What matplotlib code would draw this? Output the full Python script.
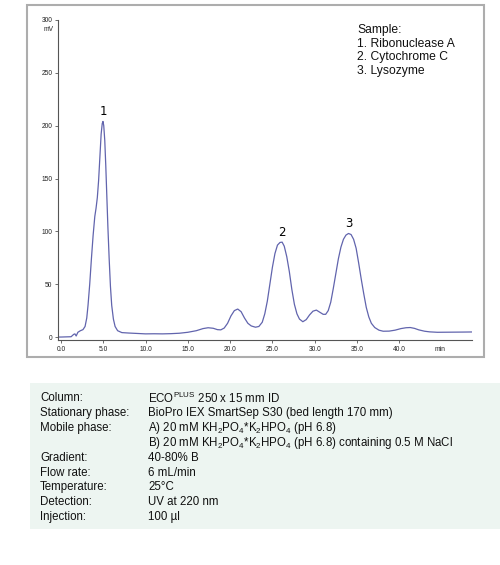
# chromatogram of the protein sample with the method table underneath
import matplotlib.pyplot as plt
from matplotlib.patches import Rectangle

plt.rcParams['font.family'] = ['Liberation Sans', 'DejaVu Sans']
plt.rcParams['mathtext.fontset'] = 'custom'
plt.rcParams['mathtext.rm'] = 'Liberation Sans'

# trace (retention time in min, signal in mV)
t_min = [-0.35, 0.0, 1.2, 1.5, 1.65, 1.8, 2.0, 2.3, 2.6, 2.85, 3.05, 3.2, 3.4, 3.6, 3.8,
         4.0, 4.15, 4.3, 4.45, 4.6, 4.75, 4.88, 4.97, 5.06, 5.18, 5.3, 5.42, 5.55,
         5.7, 5.85, 6.0, 6.2, 6.4, 6.7, 7.2, 8.0, 9.0, 10.0, 11.0, 12.0, 13.0, 14.0,
         15.0, 16.0, 16.8, 17.4, 18.0, 18.5, 18.9, 19.3, 19.7, 20.1, 20.5, 20.9, 21.3,
         21.7, 22.1, 22.5, 23.0, 23.4, 23.8, 24.1, 24.4, 24.7, 25.0, 25.3, 25.6, 25.9,
         26.15, 26.4, 26.7, 27.0, 27.3, 27.6, 27.9, 28.2, 28.6, 29.0, 29.4, 29.8,
         30.2, 30.6, 31.0, 31.3, 31.6, 31.9, 32.2, 32.5, 32.8, 33.1, 33.4, 33.7, 34.0,
         34.3, 34.6, 34.9, 35.2, 35.5, 35.8, 36.1, 36.4, 36.7, 37.1, 37.6, 38.1, 38.8,
         39.5, 40.2, 40.8, 41.3, 41.8, 42.3, 43.0, 43.6, 44.5, 46.0, 47.5, 48.6]
signal_mv = [0.0, 0.0, 0.3, 2.5, 3.0, 1.0, 4.5, 6.0, 7.0, 10, 18, 30, 50, 74, 96,
             114, 122, 132, 148, 170, 192, 202, 204, 200, 186, 162, 134, 104,
             74, 48, 30, 17, 10, 6, 4.2, 3.8, 3.4, 3.0, 3.1, 3.0, 3.2, 3.6,
             4.5, 6.0, 8.0, 8.8, 8.3, 7.0, 6.8, 8.5, 13, 20, 25, 26.5, 24,
             18, 13, 10.5, 9.3, 10, 14, 22, 34, 50, 66, 79, 87, 89.5,
             89.8, 86, 76, 62, 45, 31, 22, 17, 14.5, 16.5, 21, 24.5,
             25.5, 23.5, 21.5, 21.5, 25, 33, 46, 60, 74, 85, 92.5, 96.5, 98,
             97, 92.5, 84, 70, 55, 41, 28, 19, 13, 9, 6.5, 5.5, 5.6,
             6.5, 8, 8.8, 9.0, 8.2, 6.8, 5.5, 4.9, 4.5, 4.6, 4.7, 4.8]

# numbered peaks
peak_labels = ['1', '2', '3']
peak_t = [4.97, 26.15, 34.0]
peak_mv = [204, 89.8, 98]

x_ticks = [0, 5, 10, 15, 20, 25, 30, 35, 40, 44.8]
x_tick_labels = ['0.0', '5.0', '10.0', '15.0', '20.0', '25.0', '30.0', '35.0', '40.0', 'min']
y_ticks = [0, 50, 100, 150, 200, 250, 300]

sample_lines = ['Sample:', '1. Ribonuclease A', '2. Cytochrome C', '3. Lysozyme']

method_keys = ['Column:', 'Stationary phase:', 'Mobile phase:', '', 'Gradient:',
               'Flow rate:', 'Temperature:', 'Detection:', 'Injection:']
method_vals = [r'ECO$^{\mathregular{PLUS}}$ 250 x 15 mm ID',
               'BioPro IEX SmartSep S30 (bed length 170 mm)',
               r'A) 20 mM KH$_{\mathregular{2}}$PO$_{\mathregular{4}}$*K$_{\mathregular{2}}$HPO$_{\mathregular{4}}$ (pH 6.8)',
               r'B) 20 mM KH$_{\mathregular{2}}$PO$_{\mathregular{4}}$*K$_{\mathregular{2}}$HPO$_{\mathregular{4}}$ (pH 6.8) containing 0.5 M NaCl',
               '40-80% B', '6 mL/min', '25°C', 'UV at 220 nm', '100 µl']

W, H = 500, 565
fig = plt.figure(figsize=(W / 100, H / 100), dpi=100)

def fx(px):
    return px / W

def fy(py):
    return 1 - py / H

# grey frame round the chromatogram
fig.patches.append(Rectangle((fx(27), fy(357)), fx(484) - fx(27), fy(5) - fy(357),
                             transform=fig.transFigure, fill=False,
                             edgecolor='#adadad', linewidth=1.5))
# pale green box behind the method table
fig.patches.append(Rectangle((fx(30), fy(529)), 1 - fx(30), fy(383) - fy(529),
                             transform=fig.transFigure, facecolor='#edf5f1',
                             edgecolor='none'))

ax = fig.add_axes([fx(58), fy(340), fx(472) - fx(58), fy(20) - fy(340)])
ax.plot(t_min, signal_mv, color='#6164ad', linewidth=0.9)
for lab, t, v in zip(peak_labels, peak_t, peak_mv):
    ax.annotate(lab, (t, v), xytext=(0, 7), textcoords='offset points',
                ha='center', va='center', fontsize=8.5, family='DejaVu Sans')

ax.set_xlim(-0.35, 48.6)
ax.set_ylim(-2.8, 300)
ax.set_xticks(x_ticks)
ax.set_xticklabels(x_tick_labels)
ax.xaxis.get_major_ticks()[-1].tick1line.set_visible(False)
ax.set_yticks(y_ticks)
ax.tick_params(labelsize=4.8, length=2.5, width=0.6, colors='#555555',
               labelcolor='#222222', pad=1.5)
ax.annotate('mV', (0, 1), xycoords='axes fraction', xytext=(-3, -7),
            textcoords='offset points', fontsize=4.8, ha='right', va='center',
            color='#222222')
for side in ['top', 'right']:
    ax.spines[side].set_visible(False)
for side in ['left', 'bottom']:
    ax.spines[side].set_color('#555555')
    ax.spines[side].set_linewidth(0.8)

# sample legend, top right
for i, line in enumerate(sample_lines):
    fig.text(fx(357), fy(30 + 13.6 * i), line, fontsize=8.7, va='center', color='#111111')

# method table
for i, (k, v) in enumerate(zip(method_keys, method_vals)):
    y = fy(398 + 14.9 * i)
    fig.text(fx(40), y, k, fontsize=8.3, va='center', color='#111111')
    fig.text(fx(148), y, v, fontsize=8.3, va='center', color='#111111')

fig.savefig('out.png', dpi=100)
